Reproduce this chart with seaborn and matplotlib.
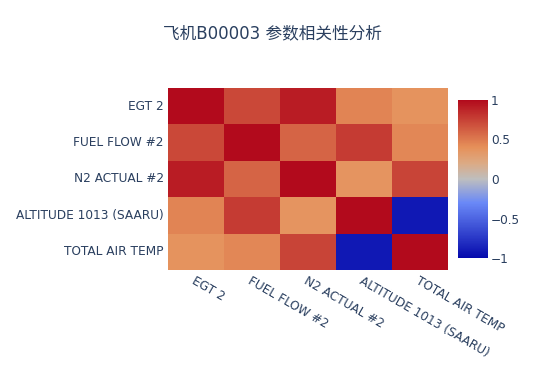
import numpy as np
import pandas as pd
import seaborn as sns
import matplotlib
matplotlib.use("Agg")
import matplotlib.pyplot as plt
from matplotlib.colors import LinearSegmentedColormap

params = ["EGT 2", "FUEL FLOW #2", "N2 ACTUAL #2", "ALTITUDE 1013 (SAARU)", "TOTAL AIR TEMP"]
row_egt = [1.00, 0.72, 0.92, 0.46, 0.38]
row_fuel = [0.72, 1.00, 0.60, 0.78, 0.44]
row_n2 = [0.92, 0.60, 1.00, 0.37, 0.74]
row_alt = [0.46, 0.78, 0.37, 1.00, -0.92]
row_tat = [0.38, 0.44, 0.74, -0.92, 1.00]
title = "飞机B00003 参数相关性分析"

corr = pd.DataFrame([row_egt, row_fuel, row_n2, row_alt, row_tat], index=params, columns=params)

# old plotly RdBu scale
cmap = LinearSegmentedColormap.from_list("rdbu_plotly", [
    (0.0, (5/255, 10/255, 172/255)),
    (0.35, (106/255, 137/255, 247/255)),
    (0.5, (190/255, 190/255, 190/255)),
    (0.6, (220/255, 170/255, 132/255)),
    (0.7, (230/255, 145/255, 90/255)),
    (1.0, (178/255, 10/255, 28/255)),
])

sns.set_style("white")
plt.rcParams['font.family'] = ['DejaVu Sans', 'Noto Sans CJK SC']
txt = "#2a3f5f"

fig = plt.figure(figsize=(5.41, 3.74), dpi=100)
ax = fig.add_axes([168/541, 1 - 270/374, 280/541, 182/374])
cax = fig.add_axes([458/541, 1 - 258/374, 30/541, 158/374])

sns.heatmap(corr, ax=ax, cbar_ax=cax, cmap=cmap, vmin=-1, vmax=1)

ax.tick_params(length=0, labelsize=8.7, colors=txt, pad=3)
ax.set_xticklabels(params, rotation=-30, ha="left", rotation_mode="anchor")
ax.set_yticklabels(params, rotation=0)

cax.tick_params(length=0, labelsize=8.7, colors=txt, pad=2)
cax.set_yticks([1, 0.5, 0, -0.5, -1])
cax.set_yticklabels(["1", "0.5", "0", "\u22120.5", "\u22121"])
for s in cax.spines.values():
    s.set_visible(False)

fig.text(272/541, 1 - 33/374, title, ha="center", va="center", fontsize=12, color=txt,
         family=['DejaVu Sans', 'Noto Sans CJK SC'])

fig.savefig("out.png", dpi=100)
